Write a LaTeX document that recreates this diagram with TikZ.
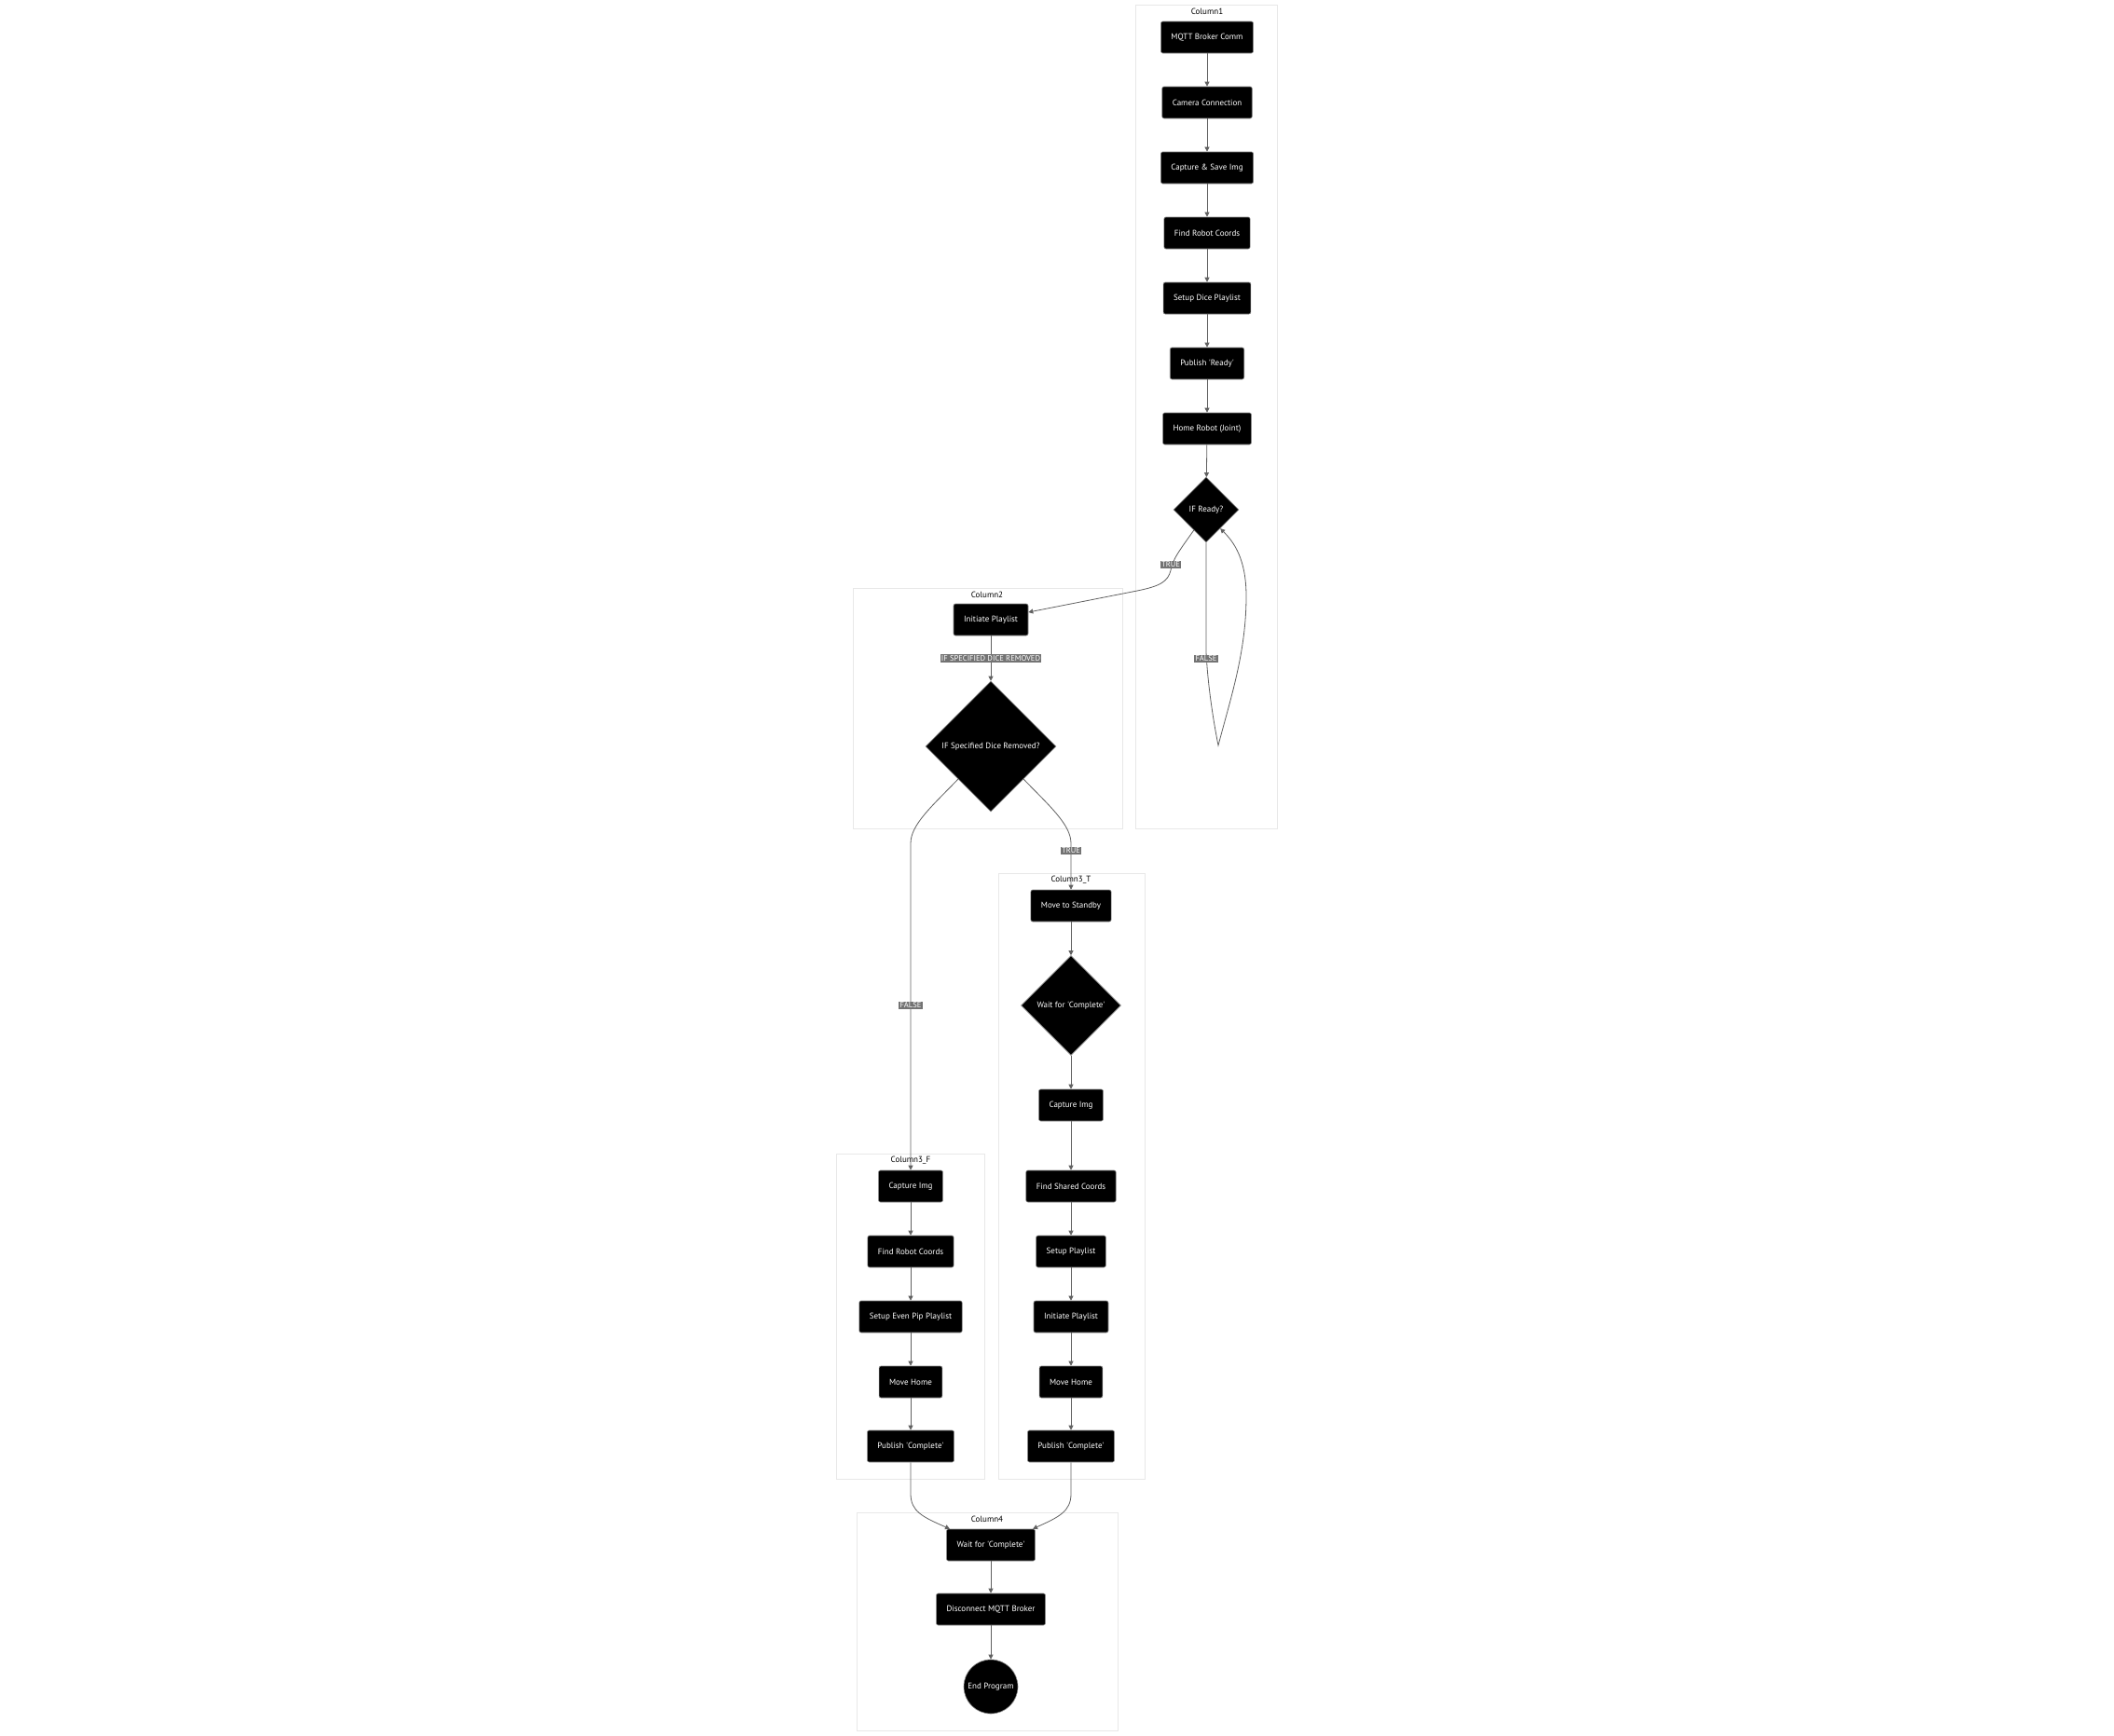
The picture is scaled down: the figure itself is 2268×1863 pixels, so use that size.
\documentclass[tikz,border=0pt]{standalone}
\usepackage{fontspec}
\setmainfont{PT Sans}
\usetikzlibrary{shapes.geometric,arrows.meta}
\newcommand{\sq}{\textquotesingle}
\tikzset{
  stepbox/.style={draw=black!45, line width=0.6pt, fill=black, text=white, rounded corners=2pt,
    minimum height=34pt, inner xsep=11pt, font=\fontsize{9}{10}\selectfont},
  decision/.style={diamond, draw=black!45, line width=0.6pt, fill=black, text=white,
    inner sep=0pt, aspect=1, font=\fontsize{9}{10}\selectfont},
  endnode/.style={circle, draw=black!45, line width=0.6pt, fill=black, text=white,
    inner sep=0pt, minimum size=58pt, font=\fontsize{9}{10}\selectfont},
  cluster/.style={draw=black!9, fill=white, line width=1pt},
  ctitle/.style={text=black, inner sep=0pt, font=\fontsize{9}{10}\selectfont},
  flow/.style={draw=black!62, line width=0.8pt, -{Triangle[width=5pt,length=5pt]}},
  lbl/.style={fill=black!55, text=white, inner sep=1.2pt, font=\fontsize{8.5}{9}\selectfont}
}
\begin{document}
\begin{tikzpicture}[x=1pt, y=-1pt]
  \useasboundingbox[fill=white] (0,0) rectangle (2268,1863);

  \draw[cluster] (1218,5) rectangle (1370,889);
  \node[ctitle] (t1) at (1295,12) {Column1};
  \draw[cluster] (915,631) rectangle (1204,889);
  \node[ctitle] (t2) at (1059,638) {Column2};
  \draw[cluster] (1071,937) rectangle (1228,1587);
  \node[ctitle] (t3t) at (1149,944) {Column3\_T};
  \draw[cluster] (897,1238) rectangle (1056,1587);
  \node[ctitle] (t3f) at (977,1245) {Column3\_F};
  \draw[cluster] (919,1623) rectangle (1199,1857);
  \node[ctitle] (t4) at (1059,1630) {Column4};

  \node[stepbox] (mqtt) at (1295,40) {MQTT Broker Comm};
  \node[stepbox] (cam) at (1295,110) {Camera Connection};
  \node[stepbox] (capsave) at (1295,180) {Capture \& Save Img};
  \node[stepbox] (robot) at (1295,250) {Find Robot Coords};
  \node[stepbox] (dice) at (1295,320) {Setup Dice Playlist};
  \node[stepbox] (pubready) at (1295,390) {Publish \sq Ready\sq};
  \node[stepbox] (home) at (1295,460) {Home Robot (Joint)};
  \node[decision, minimum size=70pt] (ready) at (1294,547) {IF Ready?};

  \node[stepbox] (init) at (1063,665) {Initiate Playlist};
  \node[decision, minimum size=140pt] (removed) at (1063,801) {IF Specified Dice Removed?};

  \node[stepbox] (standby) at (1149,972) {Move to Standby};
  \node[decision, minimum size=107pt] (waitT) at (1149,1079) {Wait for \sq Complete\sq};
  \node[stepbox] (capT) at (1149,1186) {Capture Img};
  \node[stepbox] (shared) at (1149,1273) {Find Shared Coords};
  \node[stepbox] (setupT) at (1149,1343) {Setup Playlist};
  \node[stepbox] (initT) at (1149,1413) {Initiate Playlist};
  \node[stepbox] (homeT) at (1149,1483) {Move Home};
  \node[stepbox] (pubT) at (1149,1552) {Publish \sq Complete\sq};

  \node[stepbox] (capF) at (977,1273) {Capture Img};
  \node[stepbox] (robotF) at (977,1343) {Find Robot Coords};
  \node[stepbox] (evenF) at (977,1413) {Setup Even Pip Playlist};
  \node[stepbox] (homeF) at (977,1483) {Move Home};
  \node[stepbox] (pubF) at (977,1552) {Publish \sq Complete\sq};

  \node[stepbox] (waitall) at (1063,1658) {Wait for \sq Complete\sq};
  \node[stepbox] (disc) at (1063,1727) {Disconnect MQTT Broker};
  \node[endnode] (endprog) at (1063,1810) {End Program};

  \draw[flow] (mqtt) -- (cam);
  \draw[flow] (cam) -- (capsave);
  \draw[flow] (capsave) -- (robot);
  \draw[flow] (robot) -- (dice);
  \draw[flow] (dice) -- (pubready);
  \draw[flow] (pubready) -- (home);
  \draw[flow] (home) -- (ready);
  \draw[flow] (ready.-121) .. controls (1266,590) and (1258,600) .. (1256,612)
    .. controls (1253,624) and (1245,629) .. (1220,634) -- ([yshift=8pt]init.east);
  \draw[flow] (ready.south) -- (1294,700) .. controls (1296,740) and (1303,780) .. (1307,800)
    .. controls (1320,750) and (1337,700) .. (1337,640)
    .. controls (1337,600) and (1324,582) .. (ready.-53);
  \draw[flow] (init) -- node[lbl] (lremoved) {IF SPECIFIED DICE REMOVED} (removed);
  \draw[flow] (removed.south west) .. controls (1000,865) and (977,885) .. (977,905) -- (capF);
  \draw[flow] (removed.south east) .. controls (1126,865) and (1149,885) .. (1149,905) -- (standby);

  \draw[flow] (standby) -- (waitT);
  \draw[flow] (waitT) -- (capT);
  \draw[flow] (capT) -- (shared);
  \draw[flow] (shared) -- (setupT);
  \draw[flow] (setupT) -- (initT);
  \draw[flow] (initT) -- (homeT);
  \draw[flow] (homeT) -- (pubT);

  \draw[flow] (capF) -- (robotF);
  \draw[flow] (robotF) -- (evenF);
  \draw[flow] (evenF) -- (homeF);
  \draw[flow] (homeF) -- (pubF);

  \draw[flow] (pubF) -- (977,1603) .. controls (977,1622) and (990,1628) .. ([xshift=-44pt]waitall.north);
  \draw[flow] (pubT) -- (1149,1603) .. controls (1149,1622) and (1136,1628) .. ([xshift=45pt]waitall.north);
  \draw[flow] (waitall) -- (disc);
  \draw[flow] (disc) -- (endprog);

  \node[lbl] (ltrue1) at (1256,606) {TRUE};
  \node[lbl] (lfalse1) at (1294,707) {FALSE};
  \node[lbl] (lfalse2) at (977,1079) {FALSE};
  \node[lbl] (ltrue2) at (1149,913) {TRUE};
\end{tikzpicture}
\end{document}
